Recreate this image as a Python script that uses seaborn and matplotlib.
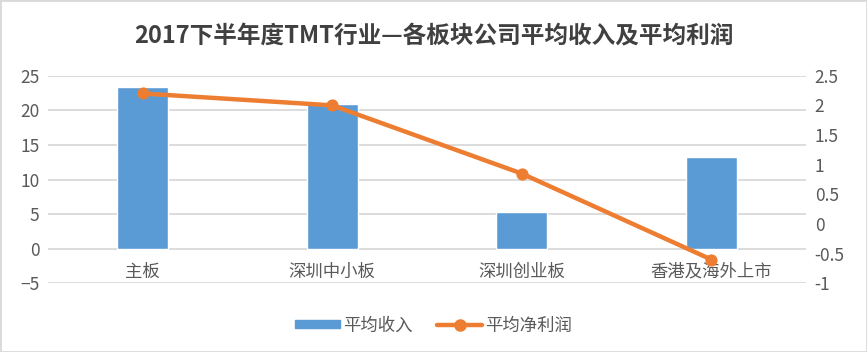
import pandas as pd
import matplotlib.pyplot as plt
import matplotlib.patches as mpatches
import seaborn as sns

# 数据
categories = ['主板', '深圳中小板', '深圳创业板', '香港及海外上市']
revenue = [23.3, 20.9, 5.3, 13.3]
profit = [2.2, 2.0, 0.85, -0.6]

df = pd.DataFrame({'板块': categories, '平均收入': revenue, '平均净利润': profit})

sns.set_style('white')
plt.rcParams['font.family'] = ['Noto Sans CJK SC', 'DejaVu Sans']

fig, ax = plt.subplots(figsize=(8.67, 3.52), dpi=100)
fig.subplots_adjust(left=0.055, right=0.93, top=0.785, bottom=0.195)

sns.barplot(x='板块', y='平均收入', data=df, color='#5B9BD5', width=0.27,
            saturation=1, ax=ax, zorder=2)
ax.set_ylim(-5, 25)
ax.set_yticks(range(-5, 30, 5))
ax.set_xlim(-0.5, 3.5)
ax.yaxis.grid(True, color='#D9D9D9', linewidth=1.3, zorder=0)
ax.set_axisbelow(True)

ax2 = ax.twinx()
sns.lineplot(x=range(len(categories)), y=df['平均净利润'], color='#ED7D31', linewidth=3.2,
             marker='o', markersize=8, markeredgecolor='#ED7D31', ax=ax2, zorder=3)
ax2.set_ylim(-1, 2.5)
ax2.set_yticks([-1, -0.5, 0, 0.5, 1, 1.5, 2, 2.5])
ax2.set_yticklabels(['-1', '-0.5', '0', '0.5', '1', '1.5', '2', '2.5'])
ax2.set_xlim(-0.5, 3.5)

for a in (ax, ax2):
    for s in a.spines.values():
        s.set_visible(False)
    a.set_xlabel('')
    a.set_ylabel('')
    a.tick_params(length=0, labelsize=12.5, colors='#595959', pad=6)

# 类别标签贴着 0 轴
ax.spines['bottom'].set_position(('data', 0))
ax.set_xticks(range(len(categories)))
ax.set_xticklabels(categories)
ax.tick_params(axis='x', pad=10)

fig.suptitle('2017下半年度TMT行业—各板块公司平均收入及平均利润', fontsize=17,
             fontweight='bold', color='#404040', y=0.93)

bar_handle = mpatches.Patch(color='#5B9BD5')
line_handle = plt.Line2D([], [], color='#ED7D31', linewidth=3.2, marker='o', markersize=8)
fig.legend([bar_handle, line_handle], ['平均收入', '平均净利润'], loc='lower center',
           bbox_to_anchor=(0.5, 0.005), ncol=2, frameon=False, fontsize=12.5,
           labelcolor='#595959', handlelength=2.6, handleheight=0.35,
           handletextpad=0.2, columnspacing=1.4)

fig.patches.append(mpatches.Rectangle((0, 0), 1, 1, transform=fig.transFigure,
                                      fill=False, edgecolor='#D9D9D9', linewidth=2))

plt.savefig('out.png', dpi=100)
